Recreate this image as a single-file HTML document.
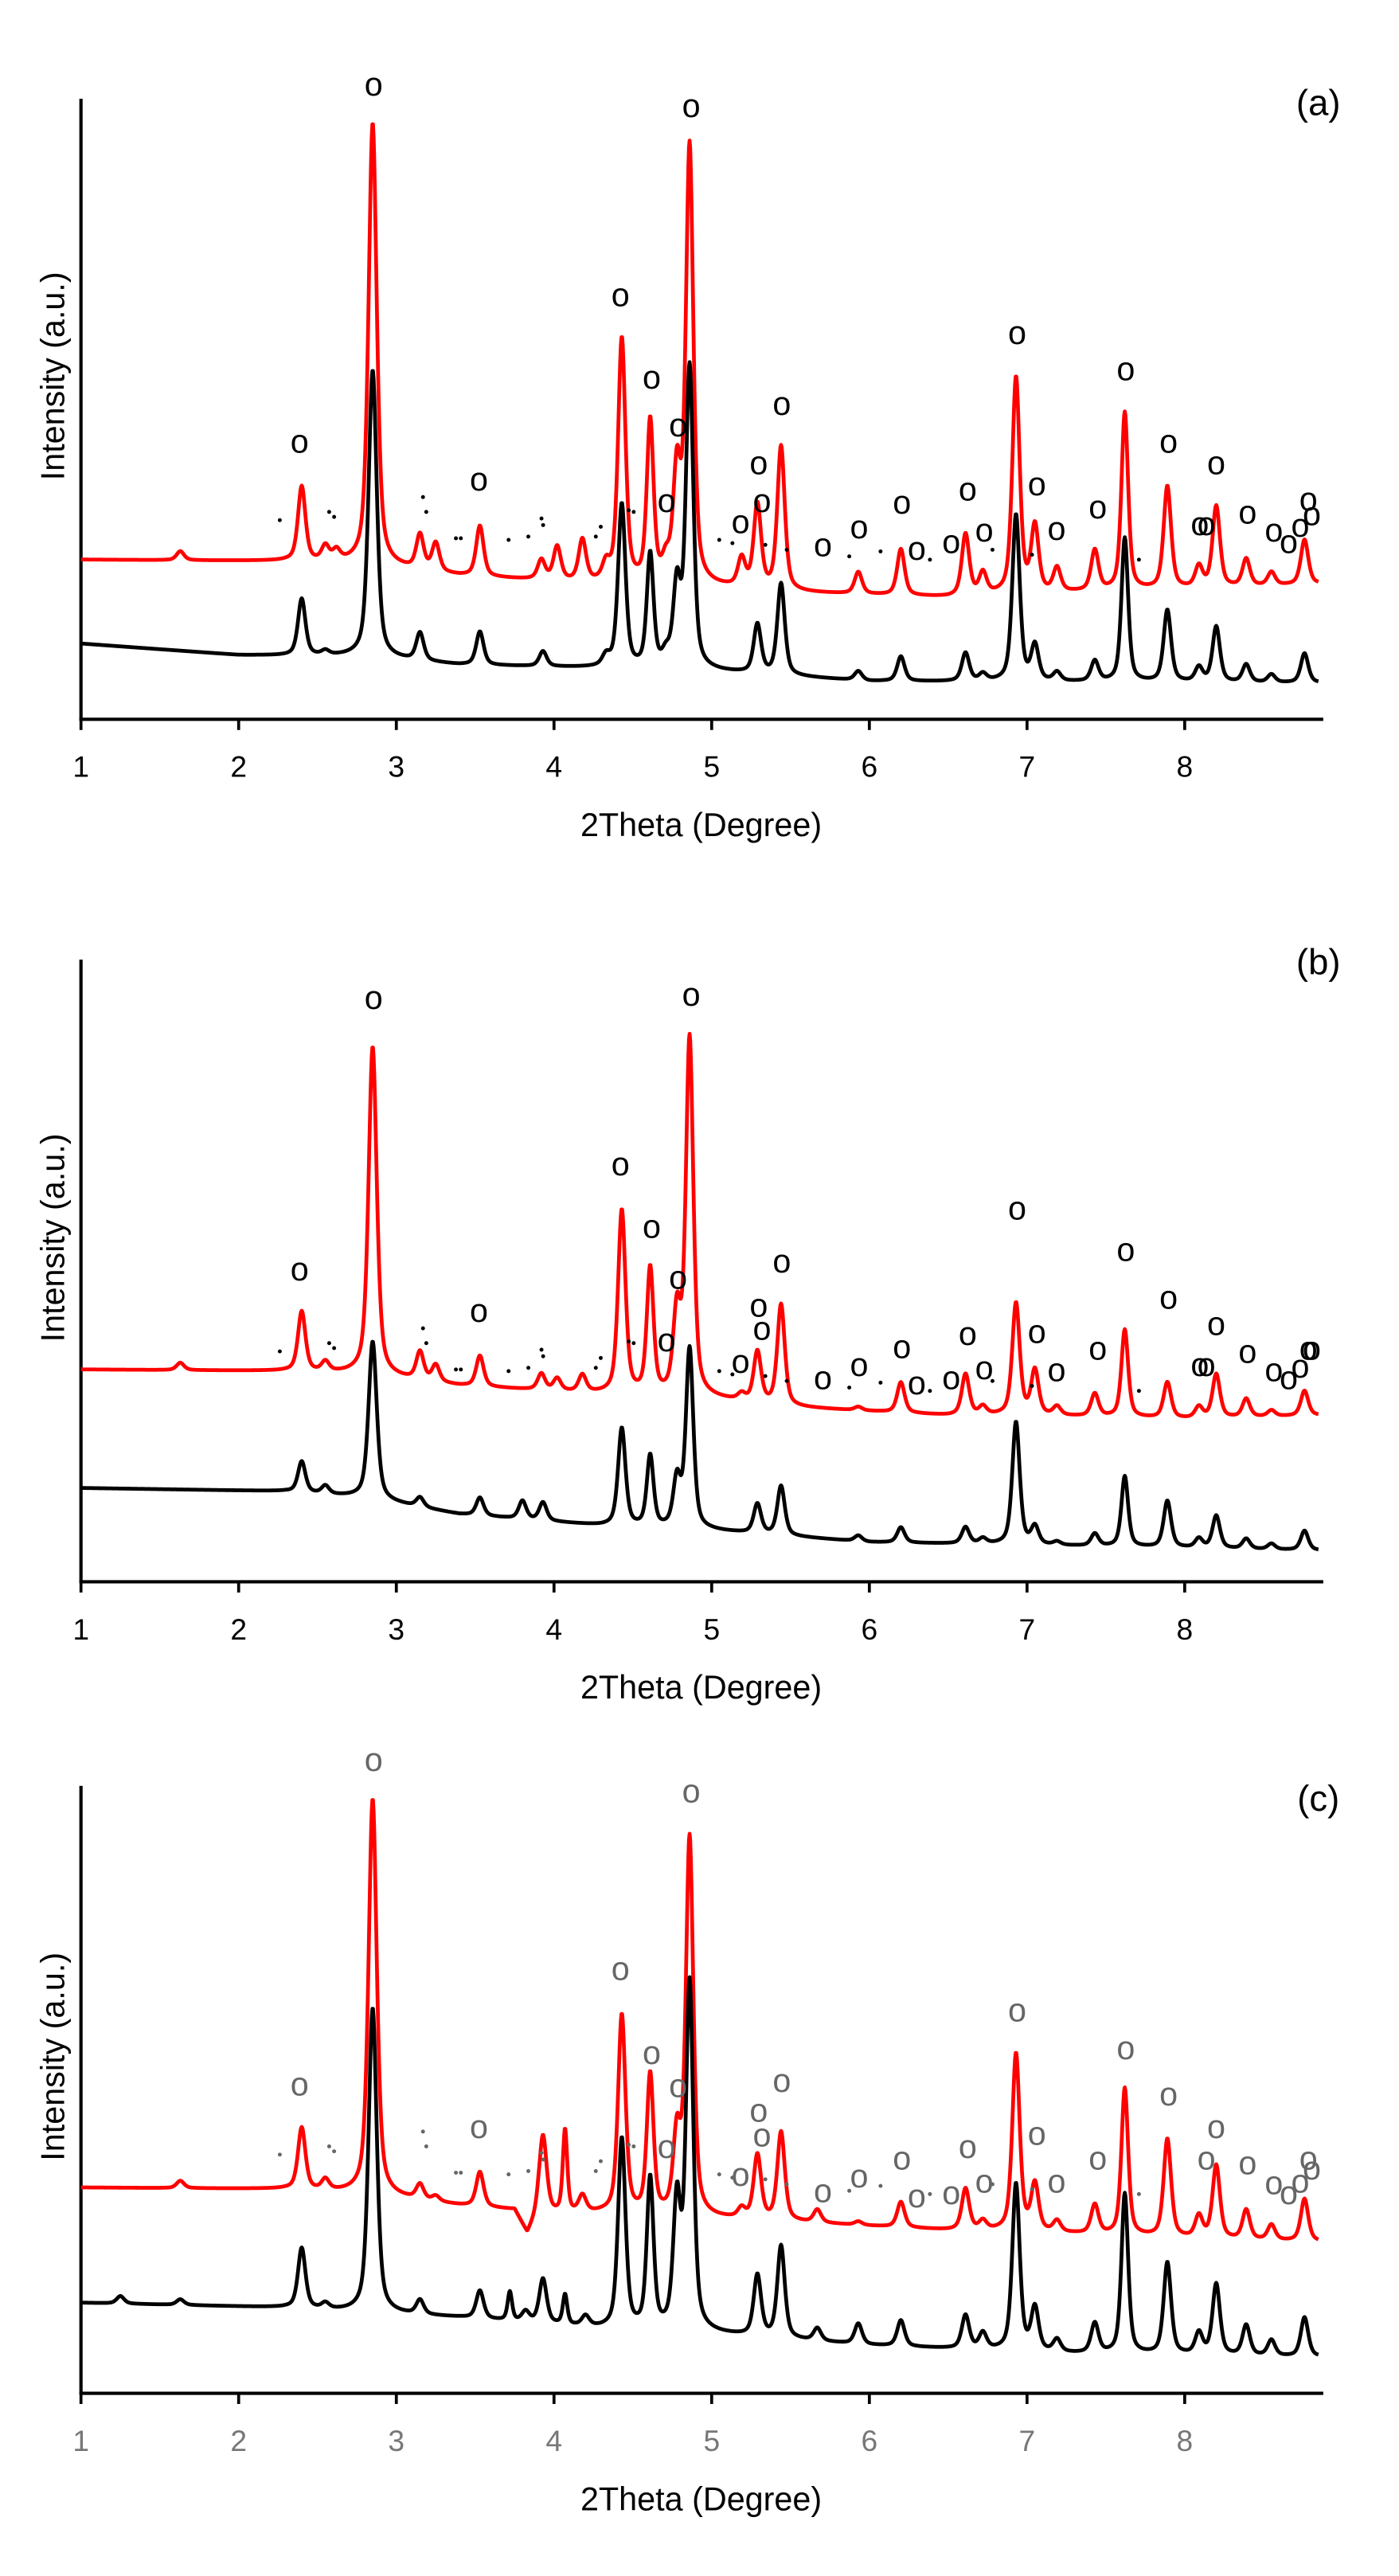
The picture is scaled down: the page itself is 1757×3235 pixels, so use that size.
<!DOCTYPE html>
<html><head><meta charset="utf-8"><style>
html,body{margin:0;padding:0;background:#fff}
svg{display:block}
text{font-family:"Liberation Sans",sans-serif}
</style></head><body>
<svg id="s" xmlns="http://www.w3.org/2000/svg" width="1757" height="3235" viewBox="0 0 850 1565">
<rect width="850" height="1565" fill="#fff"/>
<g id="g"></g>
</svg>
<script>
var NS="http://www.w3.org/2000/svg",G=document.getElementById('g');
function X(t){return 49.2+(t-1)*95.8;}
function el(n,a,txt){var e=document.createElementNS(NS,n);for(var k in a)e.setAttribute(k,a[k]);if(txt!=null)e.textContent=txt;G.appendChild(e);return e;}
function interp(b,t){for(var i=0;i<b.length-1;i++){if(t<=b[i+1][0]){var f=(t-b[i][0])/(b[i+1][0]-b[i][0]);return b[i][1]+f*(b[i+1][1]-b[i][1]);}}return b[b.length-1][1];}
function curve(base,peaks,color,w){
 var d="";
 for(var t=1;t<=8.85;t+=0.004){
  var bb=interp(base,t),y=bb;
  for(var i=0;i<peaks.length;i++){var p=peaks[i],pb=interp(base,p[0]),A=pb-p[1],ww=(p[2]||0.02)*1.4;var u=(t-p[0])/ww;
   y-=A*(0.55/(1+u*u)+0.45*Math.exp(-0.693*u*u));}
  d+=(d?"L":"M")+X(t).toFixed(2)+","+y.toFixed(2);
 }
 el('path',{d:d,fill:'none',stroke:color,'stroke-width':w||2.3,'stroke-linejoin':'round'});
}
function axes(top,bot,gray,label,ly){
 var c=gray?'#777':'#000';
 el('line',{x1:49.2,y1:top,x2:49.2,y2:bot,stroke:'#000','stroke-width':2});
 el('line',{x1:48.2,y1:bot,x2:804,y2:bot,stroke:'#000','stroke-width':2});
 for(var i=1;i<=8;i++){el('line',{x1:X(i),y1:bot,x2:X(i),y2:bot+6.5,stroke:'#000','stroke-width':1.8});
  el('text',{x:X(i),y:bot+35,'font-size':18,'text-anchor':'middle',fill:c},String(i));}
 el('text',{x:426,y:bot+71,'font-size':20,'text-anchor':'middle',fill:'#000'},'2Theta (Degree)');
 var cy=(top+bot)/2-20;
 el('text',{x:0,y:0,'font-size':20,'text-anchor':'middle',fill:'#000',transform:'translate(39,'+cy+') rotate(-90)'},'Intensity (a.u.)');
 el('text',{x:801,y:ly,'font-size':22,'text-anchor':'middle',fill:'#000'},label);
}
function os(list,gray){for(var i=0;i<list.length;i++)el('text',{x:list[i][0],y:list[i][1]+6,'font-size':20,'text-anchor':'middle',fill:gray?'#666':'#000'},'o');}
function dots(list,dy,gray){for(var i=0;i<list.length;i++)el('circle',{cx:list[i][0],cy:list[i][1]+dy,r:1.2,fill:gray?'#666':'#000'});}
var dotA=[[170,316],[200,311],[203,314],[257,302],[259,311],[277,327],[280,327],[309,328],[321,326],[330,319],[329,315],[362,326],[365,320],[382,310],[385,311],[437,328],[445,330],[465,331],[478,334],[516,338],[535,335],[565,340],[603,334],[627,337],[692,340]];
// Panel a
axes(60,437,false,'(a)',70);
curve([[1,340],[2.3,341],[2.8,343],[3.4,350],[4.3,355],[5,357],[5.5,360],[6.5,363],[7,361],[8,358],[8.85,355]],
[[1.63,335],[2.4,296],[2.55,333],[2.62,336],[2.85,75,0.022],[3.15,326],[3.25,331],[3.53,320],[3.92,341],[4.02,333],[4.18,329],[4.33,345],[4.43,207],[4.61,258,0.018],[4.71,345],[4.78,290],[4.86,91,0.02],[5.19,341],[5.29,308],[5.44,272],[5.93,348],[6.2,334],[6.61,325],[6.72,349],[6.93,230],[7.05,321],[7.19,346],[7.43,335],[7.62,251,0.018],[7.89,296],[8.09,345],[8.2,308],[8.39,340],[8.55,348],[8.76,328]],'#ff0000');
curve([[1,391],[2,398],[2.8,399],[3.4,404],[4.3,406],[5,408],[6,414],[8.85,415]],
[[2.4,364],[2.55,396],[2.85,225,0.022],[3.15,385],[3.53,384],[3.93,396],[4.33,400],[4.43,307],[4.61,338,0.018],[4.71,400],[4.78,358],[4.86,224,0.02],[5.29,380],[5.44,355],[5.93,408],[6.2,399],[6.61,397],[6.72,410],[6.93,313],[7.05,393],[7.19,409],[7.43,402],[7.62,327,0.018],[7.89,371],[8.09,406],[8.2,381],[8.39,404],[8.55,410],[8.76,397]],'#000');
os([[227,52],[420,65],[182,269],[291,292],[377,180],[396,230],[412,259],[405,305],[461,282],[463,305],[475,246],[450,318],[500,332],[522,321],[548,306],[557,334],[578,330],[588,298],[598,323],[618,203],[630,295],[642,322],[667,309],[684,225],[710,269],[739,282],[729,319],[733,319],[758,312],[774,323],[783,330],[790,320],[795,304],[797,313]],false);
dots(dotA,0,false);
// Panel b
axes(583,961,false,'(b)',592);
curve([[1,832],[2.3,833],[2.8,835],[3.4,842],[4.3,847],[5,850],[5.5,855],[6.5,860],[7,860],[8,862],[8.85,860]],
[[1.63,828],[2.4,797],[2.55,828],[2.85,636,0.022],[3.15,822],[3.25,830],[3.53,824],[3.92,835],[4.02,838],[4.18,836],[4.43,736],[4.61,772,0.018],[4.78,800],[4.86,632,0.02],[5.19,848],[5.29,822],[5.44,793],[5.93,855],[6.2,840],[6.61,835],[6.72,855],[6.93,792],[7.05,833],[7.19,855],[7.43,847],[7.62,808,0.018],[7.89,840],[8.09,855],[8.2,835],[8.39,850],[8.55,857],[8.76,845]],'#ff0000');
curve([[1,904],[2.3,906],[2.8,910],[3.4,920],[4.3,927],[5,930],[6,937],[8.85,942]],
[[2.4,888],[2.55,903],[2.85,815,0.022],[3.15,910],[3.53,910],[3.8,912],[3.93,913],[4.43,868],[4.61,885,0.018],[4.78,900],[4.86,820,0.02],[5.29,914],[5.44,903],[5.93,933],[6.2,928],[6.61,928],[6.72,935],[6.93,864],[7.05,928],[7.19,937],[7.43,932],[7.62,897,0.018],[7.89,912],[8.09,935],[8.2,921],[8.39,935],[8.55,938],[8.76,930]],'#000');
os([[227,607],[420,605],[182,772],[291,797],[377,708],[396,746],[412,777],[405,815],[461,794],[463,808],[475,767],[450,828],[500,838],[522,830],[548,819],[557,841],[578,838],[598,832],[588,811],[630,810],[642,833],[618,735],[667,820],[684,760],[710,789],[739,805],[729,830],[733,830],[758,822],[774,833],[783,838],[790,831],[795,820],[797,820]],false);
dots(dotA,505,false);
// Panel c
axes(1085,1454,true,'(c)',1100);
curve([[1,1329],[2.3,1330],[2.8,1333],[3.4,1340],[3.75,1343],[3.83,1358],[3.9,1346],[4.3,1345],[5,1348],[5.5,1350],[6.5,1355],[7,1356],[8,1360],[8.85,1362]],
[[1.63,1325],[2.4,1293],[2.55,1325],[2.85,1093,0.022],[3.15,1328],[3.25,1335],[3.53,1320],[3.93,1298],[4.07,1295,0.012],[4.18,1335],[4.43,1225],[4.61,1262,0.018],[4.78,1300],[4.86,1118,0.02],[5.19,1343],[5.29,1310],[5.44,1296],[5.67,1343],[5.93,1350],[6.2,1338],[6.61,1330],[6.72,1350],[6.93,1248],[7.05,1328],[7.19,1350],[7.43,1340],[7.62,1269,0.018],[7.89,1300],[8.09,1347],[8.2,1316],[8.39,1343],[8.55,1352],[8.76,1336]],'#ff0000');
curve([[1,1399],[2.3,1402],[2.8,1405],[3.4,1408],[4.3,1415],[5,1418],[6,1425],[7.3,1430],[8.85,1432]],
[[1.25,1395],[1.63,1397],[2.4,1366],[2.55,1400],[2.85,1220,0.022],[3.15,1398],[3.53,1392],[3.72,1393,0.012],[3.82,1405],[3.93,1385],[4.07,1395,0.012],[4.2,1408],[4.43,1300],[4.61,1325,0.018],[4.78,1340],[4.86,1207,0.02],[5.29,1383],[5.44,1365],[5.67,1415],[5.93,1412],[6.2,1410],[6.61,1407],[6.72,1418],[6.93,1327],[7.05,1403],[7.19,1422],[7.43,1412],[7.62,1333,0.018],[7.89,1375],[8.09,1418],[8.2,1388],[8.39,1413],[8.55,1422],[8.76,1408]],'#000');
os([[227,1070],[420,1089],[182,1267],[291,1293],[377,1197],[396,1248],[412,1268],[405,1305],[461,1283],[463,1298],[475,1265],[450,1322],[500,1332],[522,1323],[548,1312],[557,1335],[578,1333],[588,1305],[598,1326],[630,1297],[642,1326],[618,1222],[667,1312],[684,1245],[710,1273],[739,1293],[733,1312],[758,1315],[774,1327],[783,1333],[790,1326],[795,1312],[797,1318]],true);
dots(dotA,993,true);
</script>
</body></html>
